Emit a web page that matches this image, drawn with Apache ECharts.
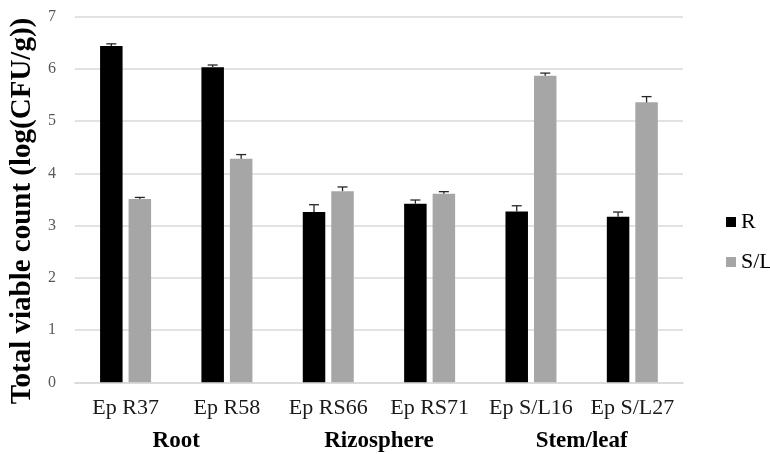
<!DOCTYPE html>
<html><head><meta charset="utf-8">
<script src="https://cdn.jsdelivr.net/npm/echarts@6/dist/echarts.min.js"></script>
<style>html,body{margin:0;padding:0;background:#fff}#c{width:770px;height:454px}</style>
</head><body><div id="c"></div>
<script>
const categories = ['Ep R37','Ep R58','Ep RS66','Ep RS71','Ep S/L16','Ep S/L27'];
const groups = ['Root','Rizosphere','Stem/leaf'];
const rValues = [6.44, 6.03, 3.26, 3.42, 3.27, 3.17];
const rErrors = [0.04, 0.045, 0.14, 0.07, 0.11, 0.09];
const slValues = [3.51, 4.28, 3.66, 3.61, 5.87, 5.36];
const slErrors = [0.03, 0.08, 0.08, 0.04, 0.05, 0.11];
const yTicks = [0,1,2,3,4,5,6,7];

const BAR_W = 22.5, GAP = 6;
function errSeries(values, errors, side) {
  return {
    type: 'custom', xAxisIndex: 0, z: 10,
    data: values.map((v, i) => [i, v, errors[i]]),
    renderItem: function (params, api) {
      const i = api.value(0), v = api.value(1), e = api.value(2);
      const base = api.coord([i, v]);
      const top = api.coord([i, v + e]);
      const x = base[0] + side * (BAR_W + GAP) / 2;
      const hw = 5;
      const st = { stroke: '#262626', lineWidth: 1.3 };
      return { type: 'group', children: [
        { type: 'line', shape: { x1: x, y1: base[1], x2: x, y2: top[1] }, style: st },
        { type: 'line', shape: { x1: x - hw, y1: top[1], x2: x + hw, y2: top[1] }, style: st }
      ]};
    }
  };
}

const chart = echarts.init(document.getElementById('c'));
chart.setOption({
  animation: false,
  backgroundColor: '#fff',
  textStyle: { fontFamily: 'Liberation Serif' },
  grid: { left: 69, right: 87, top: 16.7, bottom: 71.7 },
  legend: {
    orient: 'vertical', left: 721, top: 206,
    itemWidth: 10, itemHeight: 10, itemGap: 18,
    icon: 'rect',
    textStyle: { fontFamily: 'Liberation Serif', fontSize: 22, lineHeight: 22, color: '#000' },
    data: ['R', 'S/L']
  },
  xAxis: [
    { type: 'category', data: categories, position: 'bottom',
      axisLine: { lineStyle: { color: '#D9D9D9', width: 1.5 } },
      axisTick: { show: false },
      axisLabel: { fontFamily: 'Liberation Serif', fontSize: 22, color: '#1a1a1a', margin: 15, interval: 0 } },
    { type: 'category', data: groups, position: 'bottom', offset: 0,
      axisLine: { show: false }, axisTick: { show: false },
      axisLabel: { fontFamily: 'Liberation Serif', fontSize: 23, fontWeight: 'bold', color: '#000', margin: 47, interval: 0 } }
  ],
  yAxis: {
    type: 'value', min: 0, max: 7, interval: 1,
    name: 'Total viable count (log(CFU/g))',
    nameLocation: 'middle', nameGap: 30,
    nameTextStyle: { fontFamily: 'Liberation Serif', fontSize: 29, fontWeight: 'bold', color: '#000', padding: [0, 23, 0, 0] },
    axisLine: { show: false }, axisTick: { show: false },
    axisLabel: { fontFamily: 'Liberation Serif', fontSize: 16, color: '#595959', margin: 19,
      formatter: v => yTicks.includes(v) ? String(v) : '' },
    splitLine: { lineStyle: { color: '#D9D9D9', width: 1.5 } }
  },
  series: [
    { name: 'R', type: 'bar', data: rValues, barWidth: BAR_W, barGap: (GAP / BAR_W * 100) + '%',
      itemStyle: { color: '#000' } },
    { name: 'S/L', type: 'bar', data: slValues, barWidth: BAR_W,
      itemStyle: { color: '#A6A6A6' } },
    errSeries(rValues, rErrors, -1),
    errSeries(slValues, slErrors, 1)
  ]
});
</script></body></html>
